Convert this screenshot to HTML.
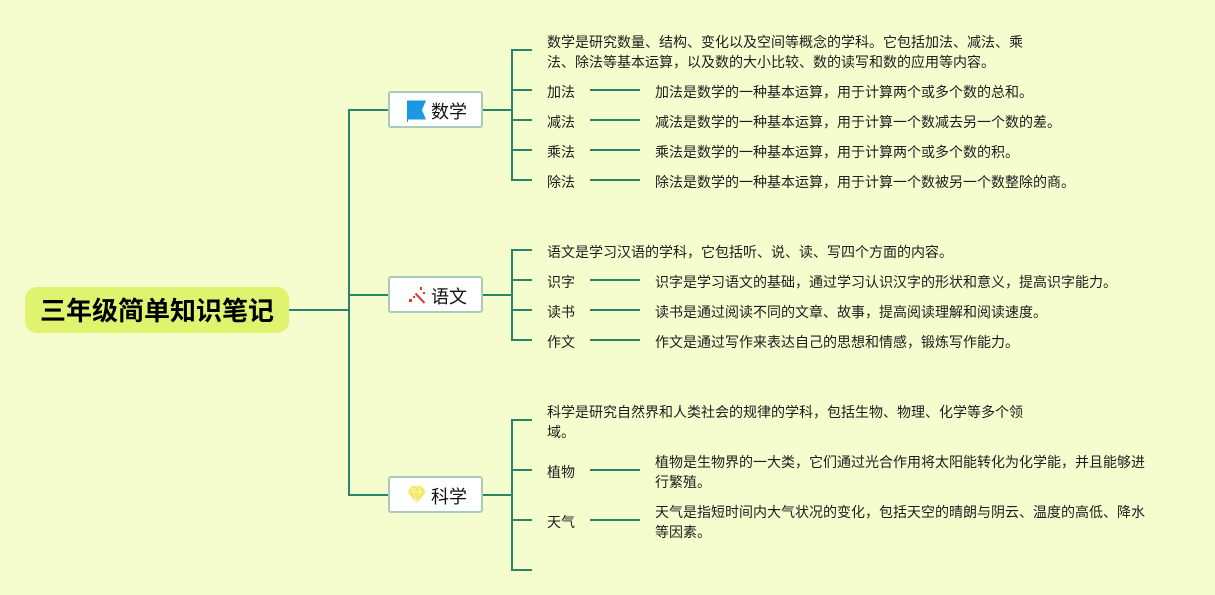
<!DOCTYPE html>
<html lang="zh"><head><meta charset="utf-8"><style>
html,body{margin:0;padding:0;width:1215px;height:595px;overflow:hidden;background:#f5fdce}
body{position:relative;font-family:"Liberation Sans","WenQuanYi Zen Hei","Noto Sans CJK SC",sans-serif;color:#1c1c1c}
svg{position:absolute;left:0;top:0}
.t{position:absolute;font-size:14px;line-height:20px;white-space:nowrap;margin-top:1px}
.root{position:absolute;left:25px;top:287px;width:264px;height:46px;background:#dff36f;border-radius:12px;font-size:26px;font-weight:bold;color:#000;line-height:48px;text-align:center;white-space:nowrap}
.box{position:absolute;left:388px;width:91px;height:33px;background:#fff;border:2px solid #a7cdb9;border-radius:3px}
.box span{position:absolute;left:41px;top:2px;font-size:18px;line-height:35px;color:#111;white-space:nowrap}
</style></head><body>
<svg width="1215" height="595" fill="none">
<g stroke="#2a8466" stroke-width="2">
<path d="M289 310H349M389 110H349V495H389M349 295H389"/>
<path d="M482 110H512M532 50H512V180H532M512 90H532M512 120H532M512 150H532"/>
<path d="M482 295H512M532 250H512V340H532M512 280H532M512 310H532"/>
<path d="M482 495H512M532 420H512V570H532M512 470H532M512 520H532"/>
<path d="M590 90H640M590 120H640M590 150H640M590 180H640M590 280H640M590 310H640M590 340H640M590 470H640M590 520H640"/>
</g>
</svg>
<div class="root">三年级简单知识笔记</div>
<div class="box" style="top:91px"><span>数学</span></div>
<div class="box" style="top:276px"><span>语文</span></div>
<div class="box" style="top:476px"><span>科学</span></div>
<svg width="1215" height="595" fill="none">
<path d="M407 100.500H426L422 110L426 119.500H408V122H407Z" fill="#1a98e2"/>
<path d="M415.500 293.500L424.500 303" stroke="#d93a2b" stroke-width="2"/>
<g fill="#d93a2b"><rect x="409" y="299" width="3" height="3"/><rect x="413" y="296" width="2" height="2"/><rect x="420" y="287" width="2" height="3"/><rect x="423" y="292" width="2" height="2"/></g>
<path d="M411.500 486H421.500L426 492L416.700 503L407.500 492Z" fill="#f2e75a"/>
<path d="M407.500 492H426M411.500 486L413.500 492L416.700 503L420 492L421.500 486M413.500 492L416.700 486L420 492" stroke="#fbf6a6" stroke-width="1"/>
</svg>

<div class="t" style="left:547px;top:31px">数学是研究数量、结构、变化以及空间等概念的学科。它包括加法、减法、乘<br>法、除法等基本运算，以及数的大小比较、数的读写和数的应用等内容。</div>
<div class="t" style="left:547px;top:81px">加法</div><div class="t" style="left:655px;top:81px">加法是数学的一种基本运算，用于计算两个或多个数的总和。</div>
<div class="t" style="left:547px;top:111px">减法</div><div class="t" style="left:655px;top:111px">减法是数学的一种基本运算，用于计算一个数减去另一个数的差。</div>
<div class="t" style="left:547px;top:141px">乘法</div><div class="t" style="left:655px;top:141px">乘法是数学的一种基本运算，用于计算两个或多个数的积。</div>
<div class="t" style="left:547px;top:171px">除法</div><div class="t" style="left:655px;top:171px">除法是数学的一种基本运算，用于计算一个数被另一个数整除的商。</div>

<div class="t" style="left:547px;top:241px">语文是学习汉语的学科，它包括听、说、读、写四个方面的内容。</div>
<div class="t" style="left:547px;top:271px">识字</div><div class="t" style="left:655px;top:271px">识字是学习语文的基础，通过学习认识汉字的形状和意义，提高识字能力。</div>
<div class="t" style="left:547px;top:301px">读书</div><div class="t" style="left:655px;top:301px">读书是通过阅读不同的文章、故事，提高阅读理解和阅读速度。</div>
<div class="t" style="left:547px;top:331px">作文</div><div class="t" style="left:655px;top:331px">作文是通过写作来表达自己的思想和情感，锻炼写作能力。</div>

<div class="t" style="left:547px;top:401px">科学是研究自然界和人类社会的规律的学科，包括生物、物理、化学等多个领<br>域。</div>
<div class="t" style="left:547px;top:461px">植物</div><div class="t" style="left:655px;top:451px">植物是生物界的一大类，它们通过光合作用将太阳能转化为化学能，并且能够进<br>行繁殖。</div>
<div class="t" style="left:547px;top:511px">天气</div><div class="t" style="left:655px;top:501px">天气是指短时间内大气状况的变化，包括天空的晴朗与阴云、温度的高低、降水<br>等因素。</div>
</body></html>
